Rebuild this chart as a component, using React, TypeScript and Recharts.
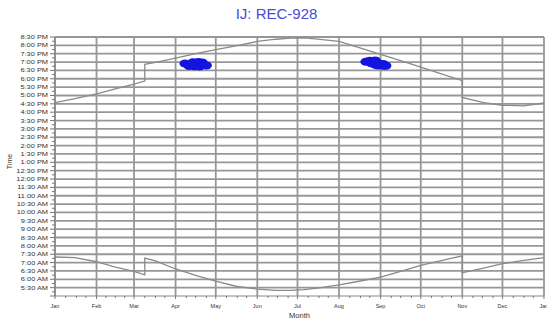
import { ComposedChart, Line, Scatter, XAxis, YAxis, ReferenceLine } from 'recharts'

// day-of-year at the start of each month (last = Jan 1 next year)
const MONTHS = ['Jan', 'Feb', 'Mar', 'Apr', 'May', 'Jun', 'Jul', 'Aug', 'Sep', 'Oct', 'Nov', 'Dec', 'Jan']
const MONTH_START_DAYS = [0, 31, 59, 90, 120, 151, 181, 212, 243, 273, 304, 334, 365]

// sun curves, minutes after midnight (DST jumps = two points on the same day)
const SUN_DAYS = [0, 15, 31, 45, 59, 67, 67, 75, 90, 105, 120, 135, 151, 165, 176, 186, 196, 212, 227, 243, 258, 273, 289, 304, 304, 320, 334, 350, 365]
const SUNSET_MIN = [994, 1009, 1026, 1044, 1061, 1072, 1132, 1139, 1154, 1170, 1185, 1198, 1214, 1222, 1226, 1227, 1222, 1214, 1192, 1168, 1145, 1122, 1097, 1073, 1013, 994, 985, 983, 993]
const SUNRISE_MIN = [440, 438, 423, 404, 388, 376, 436, 426, 397, 374, 353, 335, 325, 320, 320, 323, 328, 340, 353, 368, 388, 410, 428, 444, 384, 400, 416, 428, 438]

// detections (blue clusters)
const CALL_DAYS = [97, 100, 101, 103, 104, 107, 107, 108, 110, 111, 113, 232, 235, 239, 236, 241, 245, 241, 245, 247, 239]
const CALL_MIN = [1135, 1126, 1131, 1139, 1125, 1140, 1131, 1124, 1138, 1130, 1128, 1141, 1145, 1146, 1136, 1137, 1133, 1128, 1127, 1127, 1131]

const sunset = SUN_DAYS.map((day, i) => ({ day, min: SUNSET_MIN[i] }))
const sunrise = SUN_DAYS.map((day, i) => ({ day, min: SUNRISE_MIN[i] }))
const calls = CALL_DAYS.map((day, i) => ({ day, min: CALL_MIN[i] }))

const Y_MIN = 300
const Y_MAX = 1230
const yTicks: number[] = []
for (let m = Y_MIN; m <= Y_MAX; m += 15) yTicks.push(m)
const halfHours = yTicks.filter((m) => m % 30 === 0 && m > Y_MIN)

const xTicks: number[] = []
MONTH_START_DAYS.forEach((d, i) => {
  xTicks.push(d)
  const next = MONTH_START_DAYS[i + 1]
  if (next === undefined) return
  for (let k = 1; k < 4; k++) xTicks.push(d + Math.round(((next - d) * k) / 4))
})

const FONT = '"Liberation Sans", Arial, sans-serif'
const GRID = '#979797'

function fmtTime(m: number) {
  const h = Math.floor(m / 60)
  const mm = (m % 60).toString().padStart(2, '0')
  const h12 = h % 12 === 0 ? 12 : h % 12
  return `${h12}:${mm} ${h < 12 ? 'AM' : 'PM'}`
}

function YTick({ x, y, payload }: any) {
  const v = payload.value as number
  const major = v % 30 === 0
  return (
    <g>
      <line x1={x} x2={x - (major ? 5 : 3)} y1={y} y2={y} stroke="#777" strokeWidth={1} />
      {major && v > Y_MIN && (
        <text
          transform={`translate(${x - 7},${y + 2}) scale(1.35,1)`}
          textAnchor="end"
          fontSize={5.5}
          fontFamily={FONT}
          fill="#333"
        >
          {fmtTime(v)}
        </text>
      )}
    </g>
  )
}

function XTick({ x, y, payload }: any) {
  const v = payload.value as number
  const idx = MONTH_START_DAYS.indexOf(v)
  return (
    <g>
      <line x1={x} x2={x} y1={y} y2={y + (idx >= 0 ? 3 : 2)} stroke="#777" strokeWidth={1} />
      {idx >= 0 && (
        <text x={x} y={y + 12} textAnchor="middle" fontSize={5.5} fontFamily={FONT} fill="#333">
          {MONTHS[idx]}
        </text>
      )}
    </g>
  )
}

export default function App() {
  return (
    <div style={{ position: 'absolute', left: 0, top: 0, width: 547, height: 323, background: '#fff' }}>
      <div
        style={{
          position: 'absolute',
          left: 0,
          width: 553,
          top: 5,
          textAlign: 'center',
          fontFamily: FONT,
          fontSize: 15,
          color: '#4a4ad8',
        }}
      >
        IJ: REC-928
      </div>
      <div
        style={{
          position: 'absolute',
          left: 2,
          top: 158,
          transform: 'rotate(-90deg)',
          fontFamily: FONT,
          fontSize: 7,
          color: '#333',
        }}
      >
        Time
      </div>
      <div
        style={{
          position: 'absolute',
          left: 55,
          width: 489,
          top: 311,
          textAlign: 'center',
          fontFamily: FONT,
          fontSize: 7.5,
          color: '#333',
        }}
      >
        Month
      </div>
      <ComposedChart width={547} height={323} margin={{ top: 37, right: 3, bottom: 0, left: 0 }}>
        <XAxis
          type="number"
          dataKey="day"
          domain={[0, 365]}
          ticks={xTicks}
          interval={0}
          tick={<XTick />}
          tickSize={0}
          tickMargin={0}
          height={27}
          axisLine={{ stroke: '#888', strokeWidth: 1.2 }}
          allowDataOverflow
        />
        <YAxis
          type="number"
          dataKey="min"
          domain={[Y_MIN, Y_MAX]}
          ticks={yTicks}
          interval={0}
          tick={<YTick />}
          tickSize={0}
          tickMargin={0}
          width={55}
          axisLine={{ stroke: '#888', strokeWidth: 1.2 }}
          allowDataOverflow
        />
        {halfHours.map((m) => (
          <ReferenceLine key={`h${m}`} y={m} stroke={GRID} strokeWidth={1.8} ifOverflow="visible" />
        ))}
        {MONTH_START_DAYS.map((d) => (
          <ReferenceLine key={`v${d}`} x={d} stroke={GRID} strokeWidth={1.8} ifOverflow="visible" />
        ))}
        <Line
          data={sunset}
          dataKey="min"
          type="linear"
          stroke="#8a8a8a"
          strokeWidth={1.3}
          dot={false}
          isAnimationActive={false}
        />
        <Line
          data={sunrise}
          dataKey="min"
          type="linear"
          stroke="#8a8a8a"
          strokeWidth={1.3}
          dot={false}
          isAnimationActive={false}
        />
        <Scatter
          data={calls}
          dataKey="min"
          fill="#1414e0"
          isAnimationActive={false}
          shape={(p: any) => <ellipse cx={p.cx} cy={p.cy} rx={5.5} ry={4} fill="#1414e0" />}
        />
      </ComposedChart>
    </div>
  )
}
